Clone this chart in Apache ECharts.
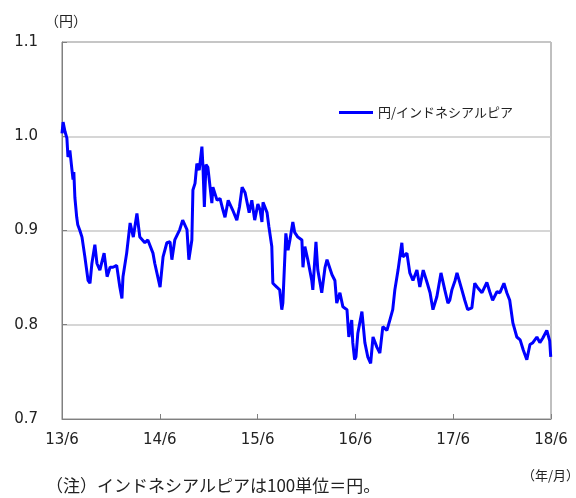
<!DOCTYPE html>
<html><head><meta charset="utf-8">
<script src="https://cdn.jsdelivr.net/npm/echarts@6/dist/echarts.min.js"></script>
<style>html,body{margin:0;padding:0;background:#fff}#c{width:576px;height:498px}</style>
</head><body><div id="c"></div>
<script>
const seriesName = '円/インドネシアルピア';
const yTicks = [0.7, 0.8, 0.9, 1.0, 1.1];
const xTickLabels = ['13/6', '14/6', '15/6', '16/6', '17/6', '18/6'];
const dates = [
'2013-06-01','2013-06-05','2013-06-12','2013-06-19','2013-06-23','2013-06-30','2013-07-08','2013-07-12','2013-07-15','2013-07-19',
'2013-07-26','2013-07-30','2013-08-07','2013-08-15','2013-08-26','2013-09-07','2013-09-14','2013-09-21','2013-10-02','2013-10-10',
'2013-10-21','2013-11-06','2013-11-17','2013-11-28','2013-12-09','2013-12-23','2014-01-04','2014-01-12','2014-01-16','2014-01-30',
'2014-02-11','2014-02-22','2014-03-07','2014-03-18','2014-04-06','2014-04-17','2014-05-06','2014-05-13','2014-05-20','2014-06-02',
'2014-06-13','2014-06-27','2014-07-09','2014-07-16','2014-07-27','2014-08-15','2014-08-26','2014-09-11','2014-09-18','2014-09-29',
'2014-10-03','2014-10-11','2014-10-18','2014-10-27','2014-11-06','2014-11-10','2014-11-15','2014-11-21','2014-11-28','2014-12-13',
'2014-12-17','2014-12-24','2015-01-02','2015-01-13','2015-01-24','2015-02-01','2015-02-12','2015-02-27','2015-03-15','2015-03-25',
'2015-04-04','2015-04-15','2015-04-30','2015-05-10','2015-05-21','2015-06-02','2015-06-10','2015-06-17','2015-06-21','2015-07-06',
'2015-07-13','2015-07-24','2015-07-28','2015-08-12','2015-08-23','2015-08-31',
'2015-09-04','2015-09-15','2015-09-23','2015-09-30','2015-10-11','2015-10-18','2015-10-30','2015-11-14','2015-11-18','2015-11-25',
'2015-12-06','2015-12-21','2015-12-25','2016-01-06','2016-01-13','2016-01-28','2016-02-09','2016-02-16','2016-03-05','2016-03-16',
'2016-03-23','2016-04-04','2016-04-15','2016-04-30','2016-05-07','2016-05-18','2016-05-22','2016-05-29','2016-06-03','2016-06-10',
'2016-06-25','2016-07-06','2016-07-17','2016-07-28','2016-08-06','2016-08-21','2016-09-01','2016-09-12','2016-09-27','2016-10-08',
'2016-10-19','2016-10-27','2016-11-08','2016-11-22','2016-11-26','2016-12-11','2016-12-22','2017-01-03','2017-01-18','2017-01-29',
'2017-02-10','2017-02-24','2017-03-06','2017-03-17','2017-04-01','2017-04-16','2017-04-30','2017-05-12','2017-05-19','2017-05-27',
'2017-06-08','2017-06-15','2017-07-03','2017-07-14','2017-07-25','2017-08-10','2017-08-21','2017-09-02','2017-09-17','2017-10-05',
'2017-10-16','2017-10-27','2017-11-12','2017-11-23','2017-12-08','2017-12-19','2017-12-30','2018-01-11','2018-01-26','2018-02-07',
'2018-02-18','2018-03-02','2018-03-14','2018-03-25','2018-04-09','2018-04-20','2018-05-01','2018-05-16','2018-05-27','2018-05-31'
];
const values = [
1.003,1.015,1.005,0.998,0.978,0.985,0.964,0.954,0.962,0.935,
0.914,0.906,0.900,0.893,0.872,0.847,0.844,0.865,0.885,0.865,
0.858,0.876,0.851,0.861,0.861,0.863,0.840,0.828,0.851,0.876,
0.908,0.893,0.918,0.893,0.887,0.890,0.876,0.865,0.865,0.840,
0.872,0.887,0.888,0.869,0.890,0.901,0.911,0.901,0.869,0.890,
0.943,0.950,0.971,0.964,0.989,0.967,0.925,0.970,0.967,0.929,
0.946,0.946,0.932,0.934,0.922,0.914,0.932,0.922,0.911,0.925,
0.946,0.940,0.919,0.932,0.911,0.928,0.922,0.909,0.930,0.919,
0.904,0.883,0.844,0.840,0.837,0.816,
0.823,0.897,0.879,0.890,0.909,0.898,0.893,0.890,0.861,0.883,
0.869,0.847,0.837,0.888,0.858,0.834,0.861,0.869,0.853,0.847,
0.823,0.834,0.819,0.816,0.787,0.805,0.781,0.763,0.766,0.791,
0.814,0.781,0.766,0.759,0.787,0.776,0.770,0.798,0.794,0.805,
0.816,0.837,0.858,0.887,0.872,0.876,0.855,0.847,0.858,0.840,
0.858,0.844,0.834,0.816,0.830,0.855,0.837,0.823,0.826,0.837,
0.847,0.855,0.837,0.826,0.816,0.818,0.844,0.839,0.834,0.845,
0.835,0.826,0.835,0.834,0.844,0.834,0.826,0.802,0.787,0.784,
0.773,0.763,0.779,0.781,0.787,0.781,0.786,0.794,0.783,0.766
];

function monthsFromStart(s) {
  const [y, m, d] = s.split('-').map(Number);
  const dim = new Date(Date.UTC(y, m, 0)).getUTCDate();
  return (y - 2013) * 12 + (m - 6) + (d - 1) / dim;
}
const data = dates.map((d, i) => [monthsFromStart(d), values[i]]);

const jpFont = '"Noto Sans CJK JP", "Noto Sans", sans-serif';
const numFont = '"DejaVu Sans", "Noto Sans CJK JP", sans-serif';
const chart = echarts.init(document.getElementById('c'), null, {renderer: 'canvas'});
chart.setOption({
  animation: false,
  backgroundColor: '#fff',
  textStyle: {fontFamily: jpFont},
  grid: {left: 62, top: 42, right: 25, bottom: 79, show: true, borderColor: '#808080', borderWidth: 1, containLabel: false},
  legend: {
    data: [{name: seriesName, icon: 'rect'}],
    left: 334, top: 101, itemWidth: 34, itemHeight: 3, itemGap: 4,
    textStyle: {fontSize: 13, color: '#222', fontFamily: jpFont}
  },
  xAxis: {
    type: 'value', min: 0, max: 60, interval: 12,
    axisLine: {show: true, lineStyle: {color: '#808080', width: 1}},
    axisTick: {show: true, inside: true, length: 5, lineStyle: {color: '#808080'}},
    splitLine: {show: false},
    axisLabel: {
      margin: 14, fontSize: 15, color: '#222', fontFamily: numFont,
      formatter: v => xTickLabels[Math.round(v / 12)]
    }
  },
  yAxis: {
    type: 'value', min: yTicks[0], max: yTicks[yTicks.length - 1], interval: 0.1,
    name: '（円）', nameLocation: 'end', nameGap: 14,
    nameTextStyle: {fontSize: 14, color: '#222', align: 'center', padding: [0, 0, 0, 8], fontFamily: jpFont},
    axisLine: {show: true, lineStyle: {color: '#808080'}},
    axisTick: {show: true, inside: true, length: 5, lineStyle: {color: '#808080'}},
    splitLine: {show: true, lineStyle: {color: '#c8c8c8', width: 1.5}},
    axisLabel: {
      margin: 24, fontSize: 15, color: '#222', fontFamily: numFont,
      formatter: v => v.toFixed(1)
    }
  },
  series: [{
    name: seriesName, type: 'line', data: data,
    showSymbol: false, symbol: 'none',
    lineStyle: {color: '#0000ff', width: 3},
    itemStyle: {color: '#0000ff'}
  }],
  graphic: [
    {type: 'text', left: 522, top: 469, style: {text: '（年/月）', fontSize: 13, fill: '#222', fontFamily: jpFont}},
    {type: 'text', left: 46, top: 477, style: {text: '（注）インドネシアルピアは100単位＝円。', fontSize: 17, fill: '#222', fontFamily: jpFont}}
  ]
});
</script></body></html>
